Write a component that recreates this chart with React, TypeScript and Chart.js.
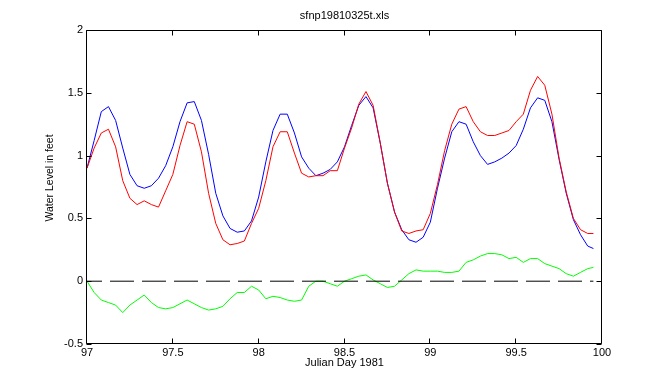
import React, { useEffect, useRef } from "react";
import { Chart, registerables } from "chart.js";

Chart.register(...registerables);

const TITLE = "sfnp19810325t.xls";
const X_LABEL = "Julian Day 1981";
const Y_LABEL = "Water Level in feet";
const START_DAY = 97;

const hoursFromStart = [
  0, 1, 2, 3, 4, 5, 6, 7, 8, 9, 10, 11, 12, 13, 14, 15, 16, 17, 18, 19, 20, 21, 22, 23,
  24, 25, 26, 27, 28, 29, 30, 31, 32, 33, 34, 35, 36, 37, 38, 39, 40, 41, 42, 43, 44, 45, 46, 47,
  48, 49, 50, 51, 52, 53, 54, 55, 56, 57, 58, 59, 60, 61, 62, 63, 64, 65, 66, 67, 68, 69, 70, 70.8,
];

const blueLevel = [
  0.90, 1.12, 1.35, 1.39, 1.28, 1.06, 0.85, 0.76, 0.74, 0.76, 0.82, 0.92, 1.07, 1.27, 1.42, 1.43,
  1.28, 1.01, 0.70, 0.52, 0.42, 0.39, 0.40, 0.48, 0.67, 0.95, 1.20, 1.33, 1.33, 1.18, 0.99, 0.90,
  0.84, 0.86, 0.89, 0.95, 1.07, 1.24, 1.40, 1.47, 1.38, 1.10, 0.78, 0.55, 0.41, 0.33, 0.31, 0.35,
  0.47, 0.74, 0.98, 1.19, 1.27, 1.25, 1.11, 1.00, 0.93, 0.95, 0.98, 1.02, 1.08, 1.21, 1.38, 1.46,
  1.44, 1.27, 0.97, 0.70, 0.49, 0.37, 0.28, 0.26,
];

const redLevel = [
  0.90, 1.06, 1.18, 1.21, 1.07, 0.80, 0.66, 0.61, 0.64, 0.61, 0.59, 0.72, 0.85, 1.08, 1.27, 1.25,
  1.03, 0.70, 0.46, 0.33, 0.29, 0.30, 0.32, 0.46, 0.58, 0.80, 1.07, 1.19, 1.19, 1.02, 0.86, 0.83,
  0.84, 0.84, 0.88, 0.88, 1.06, 1.22, 1.41, 1.51, 1.40, 1.10, 0.78, 0.55, 0.40, 0.38, 0.40, 0.41,
  0.54, 0.77, 1.04, 1.25, 1.37, 1.39, 1.27, 1.19, 1.16, 1.16, 1.18, 1.20, 1.27, 1.33, 1.52, 1.63,
  1.56, 1.33, 0.98, 0.71, 0.50, 0.41, 0.38, 0.38,
];

const greenResidual = [
  0.00, -0.09, -0.15, -0.17, -0.19, -0.25, -0.19, -0.15, -0.11, -0.17, -0.21, -0.22, -0.21, -0.18,
  -0.15, -0.18, -0.21, -0.23, -0.22, -0.20, -0.14, -0.09, -0.09, -0.04, -0.07, -0.14, -0.12, -0.13,
  -0.15, -0.16, -0.15, -0.04, 0.00, 0.00, -0.02, -0.04, 0.00, 0.02, 0.04, 0.05, 0.01, -0.02, -0.05,
  -0.04, 0.01, 0.06, 0.09, 0.08, 0.08, 0.08, 0.07, 0.07, 0.08, 0.15, 0.17, 0.20, 0.22, 0.22, 0.21,
  0.18, 0.19, 0.15, 0.18, 0.18, 0.14, 0.12, 0.10, 0.06, 0.04, 0.07, 0.10, 0.11,
];

const zeroLevel = [0, 0];

const xTicks = [97, 97.5, 98, 98.5, 99, 99.5, 100];
const yTicks = [-0.5, 0, 0.5, 1, 1.5, 2];

const FONT_FAMILY = "'Liberation Sans', Arial, Helvetica, sans-serif";

const toDay = (h: number) => START_DAY + h / 24;

const framePlugin = {
  id: "matlabFrame",
  afterDraw(chart: any) {
    const { ctx, chartArea } = chart;
    const { left, right, top, bottom } = chartArea;
    const xs = chart.scales.x;
    const ys = chart.scales.y;
    const L = Math.round(left) - 0.5;
    const R = Math.round(right) - 0.5;
    const T = Math.round(top) + 0.5;
    const B = Math.round(bottom) - 0.5;
    const tick = 5;
    ctx.save();
    ctx.strokeStyle = "#000";
    ctx.lineWidth = 1;
    ctx.setLineDash([]);
    ctx.beginPath();
    ctx.rect(L, T, R - L, B - T);
    for (const v of xTicks) {
      const px = Math.round(xs.getPixelForValue(v)) - 0.5;
      ctx.moveTo(px, B);
      ctx.lineTo(px, B - tick);
      ctx.moveTo(px, T);
      ctx.lineTo(px, T + tick);
    }
    for (const v of yTicks) {
      const py = Math.round(ys.getPixelForValue(v)) + 0.5;
      ctx.moveTo(L, py);
      ctx.lineTo(L + tick, py);
      ctx.moveTo(R, py);
      ctx.lineTo(R - tick, py);
    }
    ctx.stroke();

    ctx.fillStyle = "#000";
    ctx.font = `11px ${FONT_FAMILY}`;
    ctx.textAlign = "center";
    ctx.textBaseline = "middle";
    ctx.fillText(TITLE, (left + right) / 2, 16);

    ctx.translate(50, 178);
    ctx.rotate(-Math.PI / 2);
    ctx.font = `10.5px ${FONT_FAMILY}`;
    ctx.fillText(Y_LABEL, 0, 0);
    ctx.restore();
  },
};

export default function App() {
  const canvasRef = useRef<HTMLCanvasElement | null>(null);

  useEffect(() => {
    const canvas = canvasRef.current;
    if (!canvas) return;
    const days = hoursFromStart.map(toDay);
    const series = (vals: number[]) => vals.map((v, i) => ({ x: days[i], y: v }));
    const zeroSpan = [days[0], days[days.length - 1]];

    const chart = new Chart(canvas, {
      type: "line",
      data: {
        datasets: [
          {
            label: "zero",
            data: zeroLevel.map((v, i) => ({ x: zeroSpan[i], y: v })),
            borderColor: "#000000",
            borderWidth: 1,
            borderDash: [24, 8],
            borderDashOffset: 9,
            pointRadius: 0,
            fill: false,
          },
          {
            label: "green",
            data: series(greenResidual),
            borderColor: "#00FF00",
            borderWidth: 1,
            pointRadius: 0,
            tension: 0,
            fill: false,
          },
          {
            label: "red",
            data: series(redLevel),
            borderColor: "#FF0000",
            borderWidth: 1,
            pointRadius: 0,
            tension: 0,
            fill: false,
          },
          {
            label: "blue",
            data: series(blueLevel),
            borderColor: "#0000FF",
            borderWidth: 1,
            pointRadius: 0,
            tension: 0,
            fill: false,
          },
        ],
      },
      options: {
        responsive: false,
        animation: false,
        devicePixelRatio: 1,
        layout: { padding: { top: 30, right: 62, left: 0, bottom: 0 } },
        plugins: {
          legend: { display: false },
          tooltip: { enabled: false },
          title: { display: false },
        },
        scales: {
          x: {
            type: "linear",
            min: 97,
            max: 100,
            afterBuildTicks: (scale: any) => {
              scale.ticks = xTicks.map((v) => ({ value: v }));
            },
            afterFit: (scale: any) => {
              scale.height = 42;
            },
            grid: { display: false, drawTicks: false },
            border: { display: false },
            ticks: {
              color: "#000",
              font: { family: FONT_FAMILY, size: 11 },
              padding: 2,
              maxRotation: 0,
              autoSkip: false,
              callback: (v: any) => String(v),
            },
            title: {
              display: true,
              text: X_LABEL,
              color: "#000",
              font: { family: FONT_FAMILY, size: 11 },
              padding: { top: 0, bottom: 16 },
            },
          },
          y: {
            type: "linear",
            min: -0.5,
            max: 2,
            afterBuildTicks: (scale: any) => {
              scale.ticks = yTicks.map((v) => ({ value: v }));
            },
            afterFit: (scale: any) => {
              scale.width = 87;
            },
            grid: { display: false, drawTicks: false },
            border: { display: false },
            ticks: {
              color: "#000",
              font: { family: FONT_FAMILY, size: 11 },
              padding: 4,
              callback: (v: any) => String(v),
            },
          },
        },
      },
      plugins: [framePlugin],
    });

    return () => chart.destroy();
  }, []);

  return (
    <div style={{ position: "absolute", left: 0, top: 0, width: 664, height: 386, background: "#fff" }}>
      <canvas ref={canvasRef} width={664} height={386} />
    </div>
  );
}
